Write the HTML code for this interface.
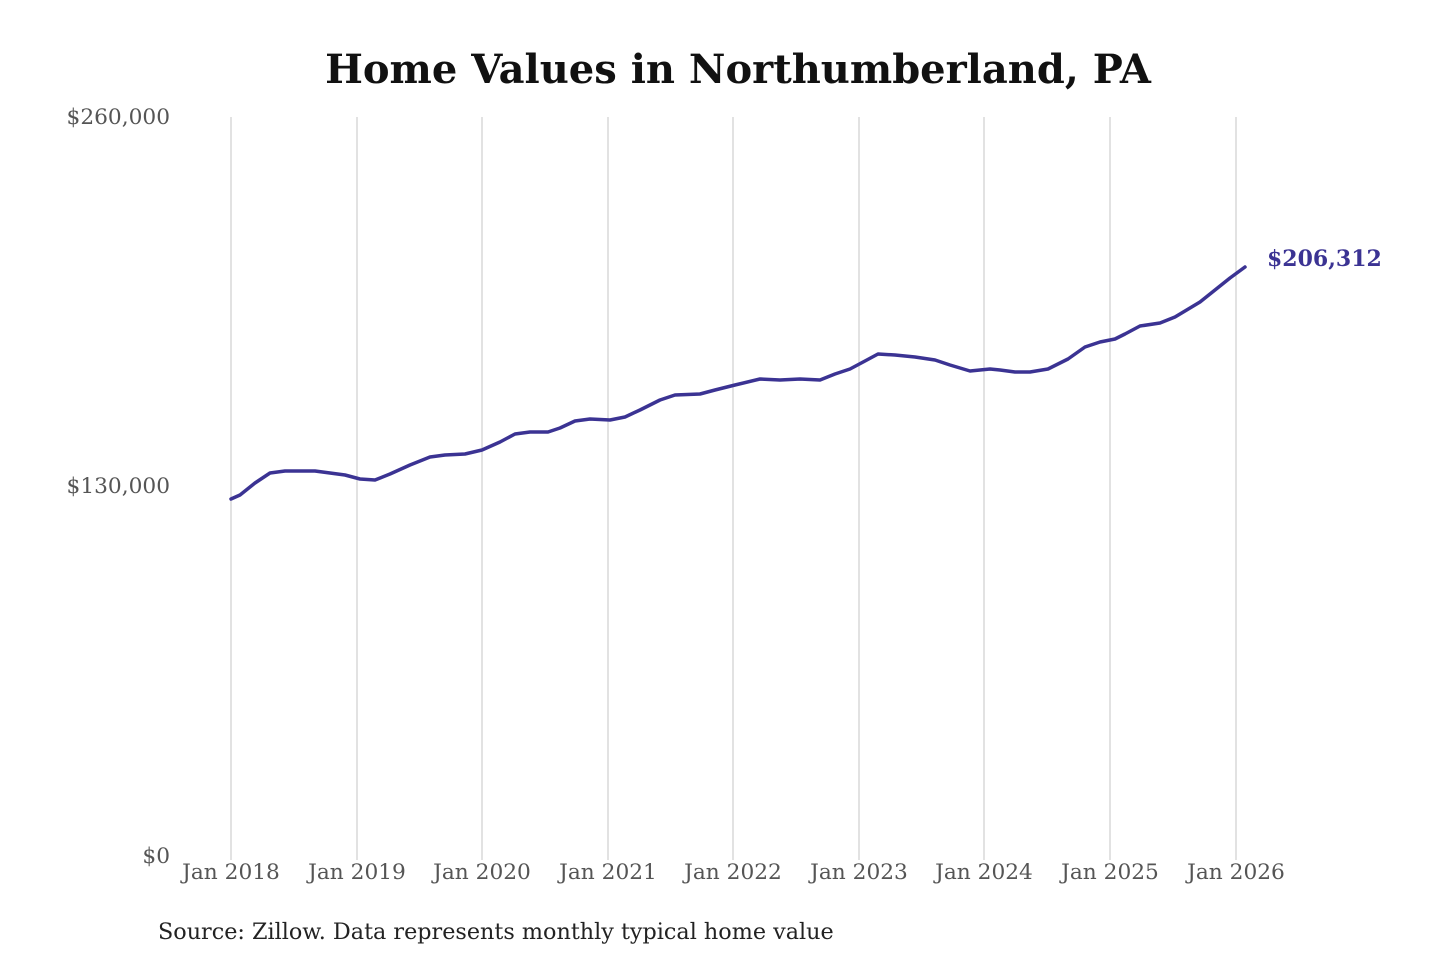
<!DOCTYPE html>
<html><head><meta charset="utf-8"><style>
html,body{margin:0;padding:0;background:#fff;}
svg{display:block;}
</style></head><body>
<svg width="1440" height="960" viewBox="0 0 1440 960" xmlns="http://www.w3.org/2000/svg">
<rect width="1440" height="960" fill="#fff"/>
<text x="738" y="83" text-anchor="middle" font-family="DejaVu Serif, Liberation Serif, serif" font-weight="bold" font-size="40" fill="#111">Home Values in Northumberland, PA</text>
<g stroke="#c4c4c4" stroke-width="1">
<line x1="231" y1="117" x2="231" y2="860"/>
<line x1="357" y1="117" x2="357" y2="860"/>
<line x1="482" y1="117" x2="482" y2="860"/>
<line x1="608" y1="117" x2="608" y2="860"/>
<line x1="733" y1="117" x2="733" y2="860"/>
<line x1="859" y1="117" x2="859" y2="860"/>
<line x1="984" y1="117" x2="984" y2="860"/>
<line x1="1110" y1="117" x2="1110" y2="860"/>
<line x1="1236" y1="117" x2="1236" y2="860"/>
</g>
<g font-family="DejaVu Serif, Liberation Serif, serif" font-size="21.7" fill="#555">
<text x="170" y="124" text-anchor="end">$260,000</text>
<text x="170" y="493" text-anchor="end">$130,000</text>
<text x="170" y="863" text-anchor="end">$0</text>
<g text-anchor="middle">
<text x="231" y="879">Jan 2018</text>
<text x="357" y="879">Jan 2019</text>
<text x="482" y="879">Jan 2020</text>
<text x="608" y="879">Jan 2021</text>
<text x="733" y="879">Jan 2022</text>
<text x="859" y="879">Jan 2023</text>
<text x="984" y="879">Jan 2024</text>
<text x="1110" y="879">Jan 2025</text>
<text x="1236" y="879">Jan 2026</text>
</g>
</g>
<polyline fill="none" stroke="#3b3393" stroke-width="3.5" stroke-linejoin="round" stroke-linecap="round"
points="231,499 240,495 255,483 270,473 285,471 315,471 345,475 360,479 375,480 390,474 410,465 430,457 445,455 465,454 482,450 500,442 515,434 530,432 548,432 560,428 575,421 590,419 610,420 625,417 640,410 660,400 675,395 700,394 715,390 735,385 760,379 780,380 800,379 820,380 835,374 850,369 865,361 878,354 895,355 915,357 935,360 950,365 970,371 990,369 1000,370 1015,372 1030,372 1048,369 1068,359 1085,347 1100,342 1115,339 1125,334 1140,326 1160,323 1175,317 1200,302 1215,290 1230,278 1245,267"/>
<text x="1267" y="266" font-family="DejaVu Serif, Liberation Serif, serif" font-weight="bold" font-size="22" fill="#3b3393">$206,312</text>
<text x="158" y="939" font-family="DejaVu Serif, Liberation Serif, serif" font-size="22.3" fill="#222">Source: Zillow. Data represents monthly typical home value</text>
</svg>
</body></html>
